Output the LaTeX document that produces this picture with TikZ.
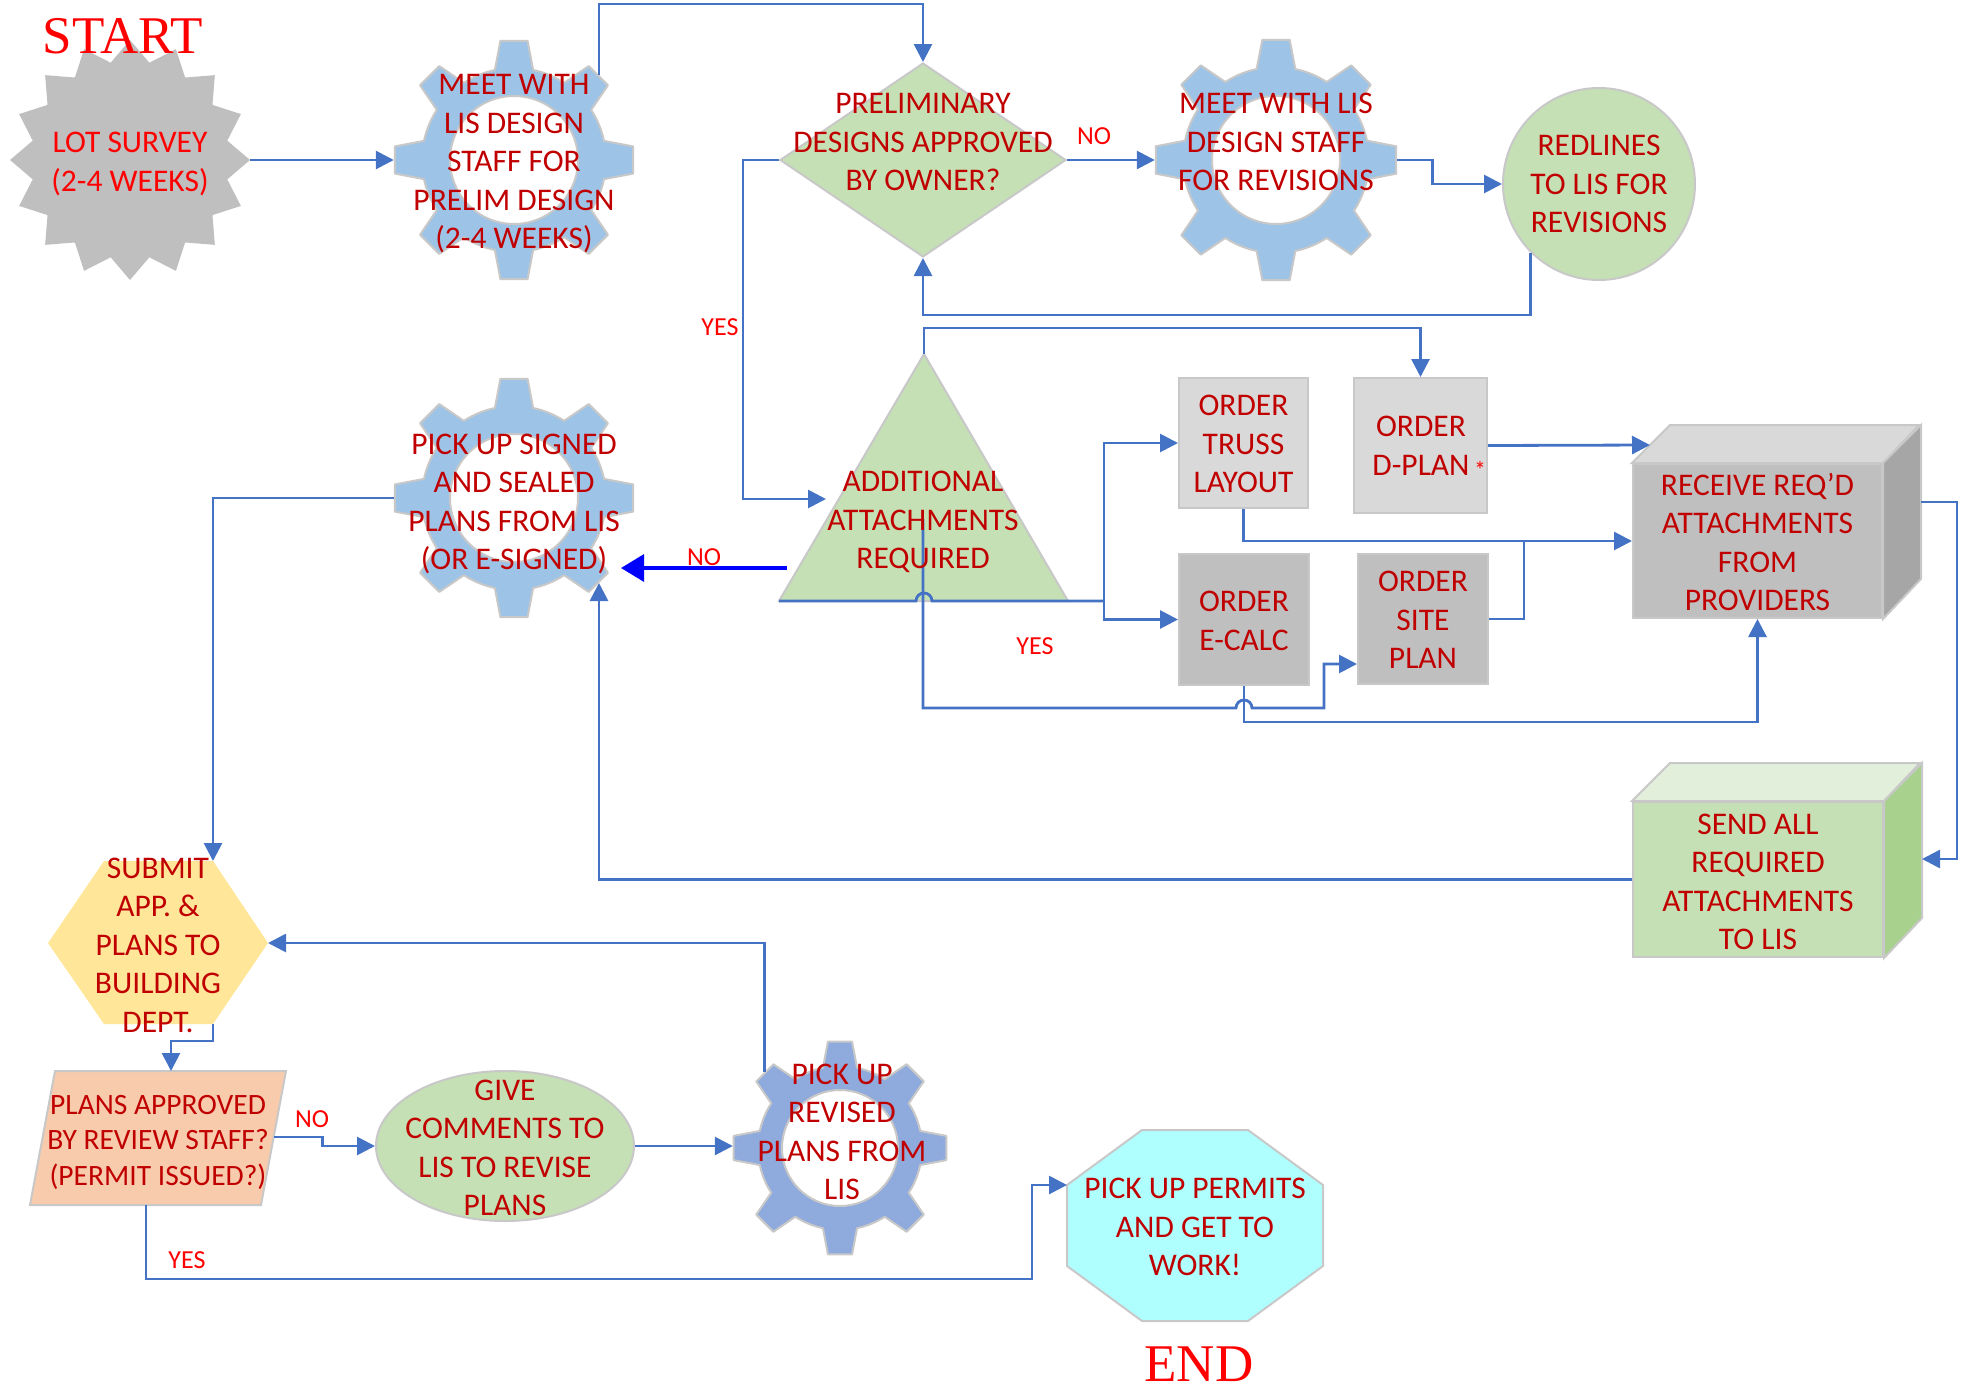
\documentclass[tikz,border=0pt]{standalone}
\usepackage{fontspec}
\setmainfont{Carlito}
\newfontfamily\timesfont{Liberation Serif}
\usetikzlibrary{arrows.meta,shapes.geometric,calc}
\definecolor{txtred}{HTML}{C00000}
\definecolor{lblred}{HTML}{FF0000}
\definecolor{lineblue}{HTML}{4472C4}
\definecolor{pureblue}{HTML}{0000FF}
\definecolor{outgray}{HTML}{C8C8C8}
\definecolor{stargray}{HTML}{BFBFBF}
\definecolor{gearblue}{HTML}{9DC3E6}
\definecolor{gearblueb}{HTML}{8FAADC}
\definecolor{lgreen}{HTML}{C5E0B4}
\definecolor{lgreentop}{HTML}{E2EFDA}
\definecolor{lgreenside}{HTML}{A9D18E}
\definecolor{grayA}{HTML}{D9D9D9}
\definecolor{grayB}{HTML}{BFBFBF}
\definecolor{grayC}{HTML}{A6A6A6}
\definecolor{hexyellow}{HTML}{FFE699}
\definecolor{parpeach}{HTML}{F8CBAD}
\definecolor{octcyan}{HTML}{AFFFFF}
\tikzset{
 txt/.style={text=txtred, font=\fontsize{31.5}{38.5}\selectfont, align=center, inner sep=0pt},
 lbl/.style={text=lblred, font=\fontsize{26}{30}\selectfont, inner sep=0pt},
 ttl/.style={text=lblred, font=\timesfont\fontsize{53}{60}\selectfont, inner sep=0pt},
 link/.style={draw=lineblue, line width=2.8pt},
 conn/.style={link, -{Triangle[length=18pt,width=18pt]}},
 noconn/.style={draw=pureblue, line width=3.2pt, -{Triangle[length=23pt,width=27pt]}},
 shapeline/.style={draw=outgray, line width=2pt},
 gearline/.style={draw=outgray, line width=2pt, line join=round},
 box/.style={shapeline, rectangle, inner sep=0pt},
 anchorbox/.style={circle, inner sep=0pt, draw=none},
}
\newcommand\drawgear[6]{%
 \begin{scope}[shift={(#1,#2)}]
 \filldraw[gearline, fill=#6, even odd rule] (-12:#4)
   foreach \ang in {0,45,...,315}{ -- ({\ang-6.5}:#3) -- ({\ang+6.5}:#3) -- ({\ang+12}:#4)
   arc[start angle=\ang+12, end angle=\ang+33, radius=#4]} -- cycle
   (0,0) circle[radius=#5];
 \end{scope}}
\begin{document}
\begin{tikzpicture}[x=1pt,y=-1pt]
\useasboundingbox (0,0) rectangle (1966,1395);

% ---------- shapes ----------
\node[star, star points=16, star point ratio=1.21, minimum size=240pt, inner sep=0pt, fill=stargray] (lot) at (130,160) {};

\drawgear{514}{160}{120}{92}{64}{gearblue}
\node[anchorbox, minimum size=240pt] (g1) at (514,160) {};
\drawgear{1276}{160}{121}{93}{64}{gearblue}
\node[anchorbox, minimum size=242pt] (g2) at (1276,160) {};
\drawgear{514}{498}{120}{92}{64}{gearblue}
\node[anchorbox, minimum size=240pt] (g3) at (514,498) {};
\drawgear{840}{1148}{107}{82}{58}{gearblueb}
\node[anchorbox, minimum size=214pt] (g4) at (840,1148) {};

\node[diamond, minimum width=286pt, minimum height=194pt, inner sep=0pt, fill=lgreen, shapeline] (dia) at (923,160) {};
\node[circle, minimum size=192pt, inner sep=0pt, fill=lgreen, shapeline] (redl) at (1599,184) {};

\draw[shapeline, fill=lgreen] (924,354) coordinate (triA) -- (1068,601) coordinate (triBR) -- (779,601) coordinate (triBL) -- cycle;

\node[box, fill=grayA, minimum width=129pt, minimum height=130pt] (truss) at (1243.5,443) {};
\node[box, fill=grayA, minimum width=133pt, minimum height=135pt] (dplan) at (1420.5,445.5) {};
\node[box, fill=grayB, minimum width=130pt, minimum height=131pt] (ecalc) at (1244,619.5) {};
\node[box, fill=grayB, minimum width=130pt, minimum height=130pt] (site) at (1423,619) {};

\node[box, fill=grayB, minimum width=249pt, minimum height=154pt] (recv) at (1757.5,541) {};
\draw[shapeline, fill=grayA] (recv.north west) -- ++(38,-38) -- ++(249,0) -- (recv.north east) -- cycle;
\draw[shapeline, fill=grayC] (recv.north east) -- ++(38,-38) -- ++(0,154) -- (recv.south east) -- cycle;

\node[box, fill=lgreen, minimum width=250pt, minimum height=155pt] (send) at (1758,879.5) {};
\draw[shapeline, fill=lgreentop] (send.north west) -- ++(38,-38) -- ++(250,0) -- (send.north east) -- cycle;
\draw[shapeline, fill=lgreenside] (send.north east) -- ++(38,-38) -- ++(0,155) -- (send.south east) -- cycle;

\fill[hexyellow] (48,943) coordinate (hexW) -- (104,861) -- (213,861) coordinate (hexTR) -- (268,943) coordinate (hexE) -- (213,1024) coordinate (hexBR) -- (104,1024) -- cycle;

\draw[shapeline, fill=parpeach] (55,1071) -- (286,1071) -- (261,1205) -- (30,1205) -- cycle;
\coordinate (parT) at (171,1071);
\coordinate (parR) at (273.5,1137);
\coordinate (parB) at (146,1205);

\node[ellipse, minimum width=258pt, minimum height=150pt, inner sep=0pt, fill=lgreen, shapeline] (give) at (505,1146) {};

\draw[shapeline, fill=octcyan] (1142,1130) -- (1248,1130) -- (1323,1185) -- (1323,1266) -- (1248,1321) -- (1142,1321) -- (1067,1266) -- (1067,1185) coordinate (octUL) -- cycle;

% ---------- named connector points ----------
\coordinate (triL) at (826,499);
\coordinate (triNO) at (787,568);
\coordinate (g3in) at (621,568);
\coordinate (ybr) at (1104,601);
\coordinate (trimid) at (923,519);
\coordinate (siteIn) at ($(site.west)+(0,45)$);
\coordinate (recvSlant) at ($(recv.north west)+(18,-18)$);
\coordinate (recvR) at ($(recv.north east)+(38,39)$);
\coordinate (sendR) at ($(send.north east)+(38,58)$);

% ---------- connectors ----------
\draw[conn] (lot.east) -- (g1.west);
\draw[conn] (g1.45) |- (dia.north |- 0,4) -- (dia.north);
\draw[conn] (dia.east) -- (g2.west);
\draw[conn] (g2.east) -- ++(35,0) |- (redl.west);
\draw[conn] (redl.225) -- (redl.225 |- 0,315) -| (dia.south);
\draw[conn] (dia.west) -- ++(-36,0) |- (triL);
\draw[conn] (triA) -- ++(0,-26) -| (dplan.north);
\draw[link] (triBL) -- ++(137,0) arc[start angle=180, end angle=0, radius=8pt] -- (ybr);
\draw[conn] (ybr) |- (truss.west);
\draw[conn] (ybr) |- (ecalc.west);
\draw[conn] (trimid) -- (trimid |- 0,708) -- (1236,708) arc[start angle=180, end angle=0, radius=8pt] -- (1324,708) |- (siteIn);
\draw[conn] (truss.south) |- (recv.west);
\draw[link] (site.east) -- ++(35,0) -- ++(0,-77);
\draw[conn] (dplan.east) -- (recvSlant);
\draw[conn] (ecalc.south) -- ++(0,36) -| (recv.south);
\draw[conn] (recvR) -- ++(36,0) |- (sendR);
\draw[conn] (send.west) -| (g3.-45);
\draw[noconn] (triNO) -- (g3in);
\draw[conn] (g3.west) -| (hexTR);
\draw[conn] (hexBR) -- ++(0,17) -| (parT);
\draw[conn] (parR) -- ++(49,0) |- (give.west);
\draw[conn] (give.east) -- (give.east -| g4.west);
\draw[conn] (g4.135) |- (hexE);
\draw[conn] (parB) -- ++(0,74) -| ($(octUL)+(-35,0)$) -- (octUL);

% ---------- labels ----------
\node[lbl] (no1) at (1094,136) {NO};
\node[lbl] (yes1) at (720,327) {YES};
\node[lbl] (no2) at (704,557) {NO};
\node[lbl] (yes2) at (1035,646) {YES};
\node[lbl] (no3) at (312,1119) {NO};
\node[lbl] (yes3) at (187,1260) {YES};

% ---------- texts ----------
\node[ttl] (startt) at (123,36) {START};
\node[ttl] (endt) at (1199,1364) {END};
\node[txt, text=lblred] (lott) at (130,164) {LOT SURVEY\\(2-4 WEEKS)};
\node[txt] (g1t) at (514,164) {MEET WITH\\LIS DESIGN\\STAFF FOR\\PRELIM DESIGN\\(2-4 WEEKS)};
\node[txt] (diat) at (923,142) {PRELIMINARY\\DESIGNS APPROVED\\BY OWNER?};
\node[txt] (g2t) at (1276,142) {MEET WITH LIS\\DESIGN STAFF\\FOR REVISIONS};
\node[txt] (redt) at (1599,184) {REDLINES\\TO LIS FOR\\REVISIONS};
\node[txt] (trit) at (923,522) {ADDITIONAL\\ATTACHMENTS\\REQUIRED};
\node[txt] (g3t) at (514,504) {PICK UP SIGNED\\AND SEALED\\PLANS FROM LIS\\(OR E-SIGNED)};
\node[txt] (trusst) at (1243.5,444) {ORDER\\TRUSS\\LAYOUT};
\node[txt] (dplant) at (1421,446) {ORDER\\D-PLAN};
\node[lbl, font=\fontsize{24}{26}\selectfont] (ast) at (1480,470) {*};
\node[txt] (ecalct) at (1244,621) {ORDER\\E-CALC};
\node[txt] (sitet) at (1423,620) {ORDER\\SITE\\PLAN};
\node[txt] (recvt) at (1757.5,542) {RECEIVE REQ'D\\ATTACHMENTS\\FROM\\PROVIDERS};
\node[txt] (sendt) at (1758,882) {SEND ALL\\REQUIRED\\ATTACHMENTS\\TO LIS};
\node[txt] (hext) at (158,945) {SUBMIT\\APP. \&\\PLANS TO\\BUILDING\\DEPT.};
\node[txt, font=\fontsize{29.5}{35.5}\selectfont] (part) at (158,1142) {PLANS APPROVED\\BY REVIEW STAFF?\\(PERMIT ISSUED?)};
\node[txt] (givet) at (505,1148) {GIVE\\COMMENTS TO\\LIS TO REVISE\\PLANS};
\node[txt] (g4t) at (842,1132) {PICK UP\\REVISED\\PLANS FROM\\LIS};
\node[txt] (octt) at (1195,1227) {PICK UP PERMITS\\AND GET TO\\WORK!};
\end{tikzpicture}
\end{document}
